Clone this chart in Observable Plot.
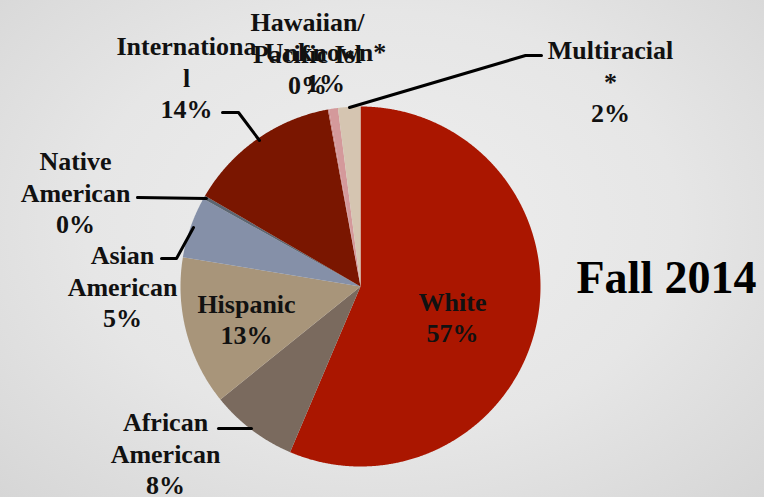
<!DOCTYPE html>
<html>
<head>
<meta charset="utf-8">
<script src="https://cdn.jsdelivr.net/npm/d3@7"></script>
<script src="https://cdn.jsdelivr.net/npm/@observablehq/plot@0.6"></script>
<style>
  html, body { margin: 0; padding: 0; }
  body { width: 764px; height: 497px; overflow: hidden;
    background: radial-gradient(ellipse at 50% 45%, #eeeeee 0%, #e6e6e6 55%, #d6d6d6 100%); }
  #chart { position: absolute; left: 0; top: 0; width: 764px; height: 497px; }
  #chart svg { background: transparent; }
  #chart svg text, #chart svg tspan { font-family: "Liberation Serif", "Times New Roman", serif !important; font-weight: bold; }
</style>
</head>
<body>
<div id="chart"></div>
<script>
// ---- data ----
const categories = ["White", "African American", "Hispanic", "Asian American", "Native American",
  "International", "Hawaiian/Pacific Isl", "Unknown*", "Multiracial*"];
const shares = [56.4, 7.8, 13.4, 5.5, 0.3, 13.7, 0.1, 0.8, 2.0];
const pctLabels = ["57%", "8%", "13%", "5%", "0%", "14%", "0%", "1%", "2%"];
const labelNames = ["White", "African\nAmerican", "Hispanic", "Asian\nAmerican", "Native\nAmerican",
  "Internationa\nl", "Hawaiian/\nPacific Isl", "Unknown*", "Multiracial\n*"];
const sliceColors = ["#aa1600", "#7a6a5e", "#a8957a", "#8590a8", "#5c6672",
  "#7a1600", "#c88080", "#d4999b", "#d5c5b1"];
const title = "Fall 2014";

// ---- layout (pixel anchors converted to unit-circle space) ----
const W = 764, H = 497, CX = 360, CY = 286, R = 180;
const U = (px, py) => ({x: (px - CX) / R, y: (CY - py) / R});
const labelAnchors = [[452, 316], [165, 452], [246, 318], [122, 285], [75, 191],
  [186, 76], [307, 52], [325, 66], [610, 80]];
const leaders = [
  null,
  [[218, 428], [251, 428]],
  null,
  [[161, 258], [176, 258], [193, 227]],
  [[137, 197], [206, 198]],
  [[222, 112], [238, 112], [259, 140]],
  null,
  null,
  [[349, 107], [525, 55], [541, 55]]
];

// ---- slices ----
const arcs = d3.pie().sort(null).startAngle(0).endAngle(2 * Math.PI)(shares);
const slicePolys = arcs.map((a) => {
  const pts = [{x: 0, y: 0}];
  const n = Math.max(2, Math.ceil((a.endAngle - a.startAngle) / 0.005));
  for (let i = 0; i <= n; i++) {
    const t = a.startAngle + (a.endAngle - a.startAngle) * i / n;
    pts.push({x: Math.sin(t), y: Math.cos(t)});
  }
  pts.push({x: 0, y: 0});
  return pts;
});

const labels = categories.map((c, i) => ({
  ...U(labelAnchors[i][0], labelAnchors[i][1]),
  text: labelNames[i] + "\n" + pctLabels[i]
}));

const marks = [];
slicePolys.forEach((pts, i) => {
  marks.push(Plot.line(pts, {x: "x", y: "y", fill: sliceColors[i], stroke: "none", curve: "linear"}));
});
leaders.forEach((l) => {
  if (!l) return;
  marks.push(Plot.line(l.map(([px, py]) => U(px, py)), {x: "x", y: "y", stroke: "#000", strokeWidth: 3, curve: "linear"}));
});
marks.push(Plot.text(labels, {
  x: "x", y: "y", text: "text", fontSize: 26, lineHeight: 31.5 / 26,
  fontFamily: "Liberation Serif", fontWeight: "bold", fill: "#111", textAnchor: "middle"
}));
marks.push(Plot.text([{...U(666, 278), t: title}], {
  x: "x", y: "y", text: "t", fontSize: 46, fontFamily: "Liberation Serif",
  fontWeight: "bold", fill: "#000", textAnchor: "middle"
}));

const chart = Plot.plot({
  width: W, height: H, margin: 0,
  x: {domain: [-CX / R, (W - CX) / R], axis: null},
  y: {domain: [-(H - CY) / R, CY / R], axis: null},
  style: {background: "transparent", overflow: "visible", fontFamily: "Liberation Serif"},
  marks
});
document.getElementById("chart").appendChild(chart);
</script>
</body>
</html>
